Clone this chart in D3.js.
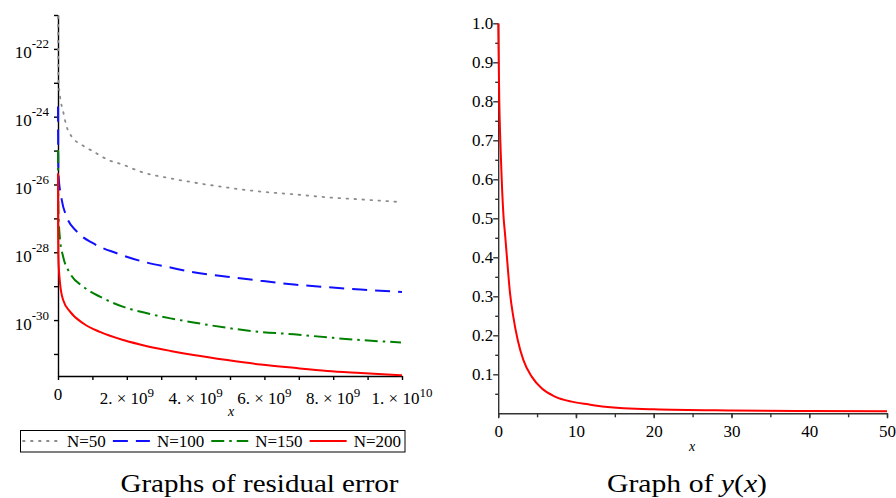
<!DOCTYPE html>
<html>
<head>
<meta charset="utf-8">
<script src="https://cdn.jsdelivr.net/npm/d3@7"></script>
<style>
	body { margin: 0; background: #fff; }
	svg { display: block; }
</style>
</head>
<body>
<svg id="chart" width="896" height="498"></svg>
<script>
const serif = "'Liberation Serif', 'Times New Roman', serif";

// left panel: residual error, x in units of 1e9, y stored as log10 of the error
const residualYTicks = [-22, -24, -26, -28, -30];
const residualYMinor = [-21, -22, -23, -24, -25, -26, -27, -28, -29, -30, -31];
const residualXTicks = [0, 2, 4, 6, 8, 10];
const residualXMinor = [0, 1, 2, 3, 4, 5, 6, 7, 8, 9, 10];
const seriesNames = ["N=50", "N=100", "N=150", "N=200"];

const n50X = [0.0005, 0.003, 0.01, 0.06, 0.14, 0.25, 0.4, 0.69, 1.03, 1.47, 1.9, 2.39, 3.27, 3.94, 4.92, 5.89, 6.86, 7.83, 8.8, 9.97];
const n50Log = [-21.05, -21.83, -22.82, -23.41, -23.8, -24.29, -24.59, -24.83, -25.03, -25.28, -25.42, -25.62, -25.82, -25.94, -26.09, -26.21, -26.29, -26.38, -26.44, -26.52];

const n100X = [0.0005, 0.01, 0.11, 0.25, 0.55, 1.03, 1.71, 2.49, 3.27, 3.94, 4.92, 5.89, 6.86, 7.83, 8.8, 10];
const n100Log = [-23.7, -25.67, -26.46, -26.95, -27.39, -27.74, -28.03, -28.28, -28.45, -28.59, -28.72, -28.84, -28.95, -29.03, -29.1, -29.17];

const n150X = [0.0005, 0.01, 0.06, 0.15, 0.35, 0.74, 1.22, 1.9, 2.59, 3.27, 3.94, 4.92, 5.89, 6.86, 7.83, 8.8, 9.97];
const n150Log = [-24.98, -26.75, -27.63, -28.13, -28.62, -29.02, -29.31, -29.61, -29.8, -29.95, -30.07, -30.23, -30.35, -30.42, -30.51, -30.59, -30.66];

const n200X = [0.0005, 0.002, 0.01, 0.06, 0.15, 0.35, 0.74, 1.22, 1.9, 2.59, 3.27, 3.94, 4.92, 5.89, 6.86, 7.83, 8.8, 10];
const n200Log = [-25.67, -27.25, -28.13, -28.92, -29.41, -29.75, -30.1, -30.35, -30.59, -30.77, -30.91, -31.03, -31.18, -31.31, -31.41, -31.5, -31.56, -31.63];

// right panel: y(x)
const yxX = [0, 0.07, 0.14, 0.27, 0.45, 0.7, 0.87, 1.22, 1.52, 1.94, 2.51, 3.23, 4.31, 5.59, 7.3, 9.45, 11.58, 13.73, 20, 30, 40, 50];
const yxY = [1, 0.9, 0.8, 0.7, 0.6, 0.5, 0.462, 0.376, 0.308, 0.248, 0.188, 0.137, 0.094, 0.064, 0.043, 0.03, 0.023, 0.017, 0.0103, 0.0072, 0.0058, 0.005];
const yxXTicks = [0, 10, 20, 30, 40, 50];
const yxXMinor = [0, 5, 10, 15, 20, 25, 30, 35, 40, 45, 50];
const yxYTicks = [0.1, 0.2, 0.3, 0.4, 0.5, 0.6, 0.7, 0.8, 0.9, 1.0];
const yxYMinor = [0.05, 0.15, 0.25, 0.35, 0.45, 0.55, 0.65, 0.75, 0.85, 0.95];

const residualSeries = [
	{ name: seriesNames[0], x: n50X, y: n50Log, color: "#8c8c8c", dash: "1.6,6.4", cap: "round", width: 1.8 },
	{ name: seriesNames[1], x: n100X, y: n100Log, color: "#1010ff", dash: "15,8", cap: "butt", width: 2 },
	{ name: seriesNames[2], x: n150X, y: n150Log, color: "#008000", dash: "13,5,2.5,5", cap: "butt", width: 2 },
	{ name: seriesNames[3], x: n200X, y: n200Log, color: "#ff0000", dash: null, cap: "butt", width: 2 },
];

const svg = d3.select("#chart");

// ---------- left panel ----------
const xL = d3.scaleLinear([0, 10], [58, 402]);
const yL = d3.scaleLog([Math.pow(10, -31.65), 1e-21], [376, 15]);

const left = svg.append("g");

left.append("g")
	.attr("transform", "translate(0,376)")
	.call(d3.axisBottom(xL).tickValues(residualXMinor).tickSize(4).tickSizeOuter(0).tickFormat(""))
	.call((g) => g.selectAll("path, line").attr("stroke", "#000").attr("stroke-width", 1.4));

left.append("g")
	.attr("transform", "translate(58,0)")
	.call(d3.axisLeft(yL).tickValues(residualYMinor.map((e) => Math.pow(10, e))).tickSize(4).tickSizeOuter(0).tickFormat(""))
	.call((g) => g.selectAll("path, line").attr("stroke", "#000").attr("stroke-width", 1.4));

// y labels 10^-22 ...
const yLab = left.selectAll(".ylab")
	.data(residualYTicks)
	.join("text")
	.attr("class", "ylab")
	.attr("x", 49)
	.attr("y", (d) => yL(Math.pow(10, d)) + 9.5)
	.attr("text-anchor", "end")
	.attr("font-size", 17);
yLab.append("tspan").text("10");
yLab.append("tspan").attr("dy", -10).attr("font-size", 13).text((d) => "-" + -d);

// x labels  2. x 10^9 ...
const xLab = left.selectAll(".xlab")
	.data(residualXTicks)
	.join("text")
	.attr("class", "xlab")
	.attr("x", (d) => xL(d))
	.attr("y", (d) => (d === 0 ? 400 : 404))
	.attr("text-anchor", "middle")
	.attr("font-size", 17);
xLab.append("tspan").text((d) => {
	if (d === 0) return "0";
	const exp = Math.floor(Math.log10(d * 1e9));
	return `${d * 1e9 / Math.pow(10, exp)}. \u00d7 10`;
});
xLab.filter((d) => d !== 0)
	.append("tspan")
	.attr("dy", -7)
	.attr("font-size", 13)
	.text((d) => Math.floor(Math.log10(d * 1e9)));

left.append("text")
	.attr("x", 231)
	.attr("y", 416)
	.attr("text-anchor", "middle")
	.attr("font-size", 14)
	.attr("font-style", "italic")
	.text("x");

const residualLine = d3.line()
	.x((d) => xL(d[0]))
	.y((d) => yL(Math.pow(10, d[1])))
	.curve(d3.curveMonotoneX);

left.selectAll(".series")
	.data(residualSeries)
	.join("path")
	.attr("class", "series")
	.attr("fill", "none")
	.attr("stroke", (d) => d.color)
	.attr("stroke-width", (d) => d.width)
	.attr("stroke-dasharray", (d) => d.dash)
	.attr("stroke-linecap", (d) => d.cap)
	.attr("d", (d) => residualLine(d3.zip(d.x, d.y)));

// legend
const legend = left.append("g");
legend.append("rect")
	.attr("x", 20.5)
	.attr("y", 430.5)
	.attr("width", 384.5)
	.attr("height", 21.5)
	.attr("fill", "none")
	.attr("stroke", "#000")
	.attr("stroke-width", 1);

let cursor = 23;
residualSeries.forEach((s) => {
	legend.append("line")
		.attr("x1", cursor)
		.attr("x2", cursor + 37)
		.attr("y1", 441)
		.attr("y2", 441)
		.attr("stroke", s.color)
		.attr("stroke-width", s.width)
		.attr("stroke-dasharray", s.dash)
		.attr("stroke-linecap", s.cap);
	const t = legend.append("text")
		.attr("x", cursor + 44)
		.attr("y", 447)
		.attr("font-size", 17)
		.style("font-family", serif)
		.text(s.name);
	cursor += 44 + t.node().getComputedTextLength() + 7;
});

svg.append("text")
	.attr("x", 120.5)
	.attr("y", 492)
	.attr("font-size", 26)
	.attr("textLength", 278)
	.attr("lengthAdjust", "spacingAndGlyphs")
	.text("Graphs of residual error");

// ---------- right panel ----------
const xR = d3.scaleLinear([0, 50], [498.2, 887]);
const yR = d3.scaleLinear([0, 1], [413.3, 23.3]);

const right = svg.append("g");

right.append("g")
	.attr("transform", "translate(0,413.3)")
	.call(d3.axisBottom(xR).tickValues(yxXMinor).tickSize(4).tickSizeOuter(0).tickFormat(""))
	.call((g) => g.selectAll("path, line").attr("stroke", "#333").attr("stroke-width", 1.4));

right.append("g")
	.attr("transform", "translate(0,413.3)")
	.call(d3.axisBottom(xR).tickValues(yxXTicks).tickSize(5).tickPadding(7).tickSizeOuter(0))
	.call((g) => g.select(".domain").remove())
	.call((g) => g.selectAll("line").attr("stroke", "#333").attr("stroke-width", 1.4))
	.call((g) => g.selectAll("text").attr("font-size", 17).attr("fill", "#000"));

right.append("g")
	.attr("transform", "translate(498.2,0)")
	.call(d3.axisLeft(yR).tickValues(yxYMinor).tickSize(3).tickSizeOuter(0).tickFormat(""))
	.call((g) => g.selectAll("path, line").attr("stroke", "#333").attr("stroke-width", 1.4));

right.append("g")
	.attr("transform", "translate(498.2,0)")
	.call(d3.axisLeft(yR).tickValues(yxYTicks).tickSize(5).tickPadding(0).tickSizeOuter(0).tickFormat(d3.format(".1f")))
	.call((g) => g.select(".domain").remove())
	.call((g) => g.selectAll("line").attr("stroke", "#333").attr("stroke-width", 1.4))
	.call((g) => g.selectAll("text").attr("font-size", 17).attr("fill", "#000"));

right.append("text")
	.attr("x", 692)
	.attr("y", 451)
	.attr("text-anchor", "middle")
	.attr("font-size", 14)
	.attr("font-style", "italic")
	.text("x");

const yxLine = d3.line()
	.x((d) => xR(d[0]))
	.y((d) => yR(d[1]))
	.curve(d3.curveMonotoneX);

right.append("path")
	.attr("fill", "none")
	.attr("stroke", "#ff0000")
	.attr("stroke-width", 2)
	.attr("d", yxLine(d3.zip(yxX, yxY)));

const cap = svg.append("text")
	.attr("x", 607)
	.attr("y", 492)
	.attr("font-size", 26)
	.attr("textLength", 160)
	.attr("lengthAdjust", "spacingAndGlyphs");
cap.append("tspan").text("Graph of ");
cap.append("tspan").attr("font-style", "italic").text("y");
cap.append("tspan").text("(");
cap.append("tspan").attr("font-style", "italic").text("x");
cap.append("tspan").text(")");

// every label in the serif face
svg.selectAll("g").attr("font-family", serif);
svg.selectAll("text, tspan").style("font-family", serif);
</script>
</body>
</html>
